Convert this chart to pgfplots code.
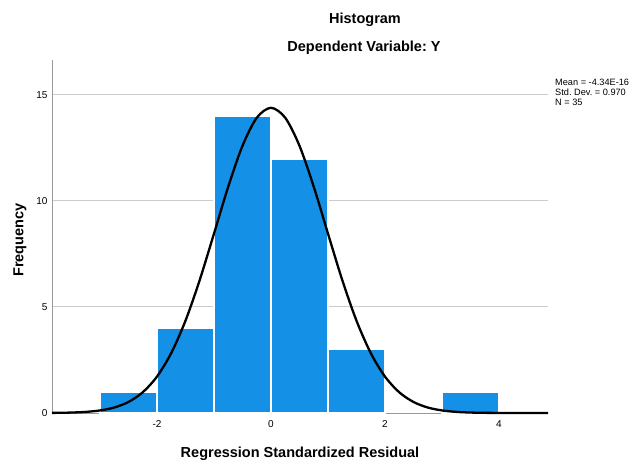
\documentclass[border=0pt]{standalone}
\usepackage{fontspec}
\setmainfont{Liberation Sans}
\usepackage{pgfplots}
\pgfplotsset{compat=1.18}
\definecolor{barblue}{RGB}{20,144,230}
\frenchspacing
\begin{document}
\begin{tikzpicture}[x=1pt,y=1pt]
\useasboundingbox (0,0) rectangle (629,459);
\begin{axis}[
  at={(52pt,46pt)}, anchor=south west,
  scale only axis, width=496pt, height=353pt,
  xmin=-3.842, xmax=4.86, ymin=0, ymax=16.65,
  axis x line=bottom, axis y line=left,
  axis line style={-, draw=black!40, line width=0.9pt},
  xtick={-2,0,2,4}, ytick={0,5,10,15},
  major tick length=0pt,
  ymajorgrids, grid style={black!20, line width=1pt},
  ticklabel style={font=\fontsize{10}{12}\selectfont},
  /pgf/number format/assume math mode=true,
  xticklabel style={yshift=-4pt},
  yticklabel style={xshift=-1pt},
  clip=false,
]
\addplot[ybar, bar width=1, bar shift=0, fill=barblue, draw=white, line width=2.2pt]
  coordinates {(-2.5,1) (-1.5,4) (-0.5,14) (0.5,12) (1.5,3) (3.5,1)};
\addplot[black, line width=2.3pt, smooth, no marks] coordinates {
(-3.842,0.0057) (-3.75,0.0082) (-3.5,0.0214) (-3.25,0.0526) (-3,0.1206)
(-2.75,0.259) (-2.5,0.520) (-2.25,0.977) (-2,1.718) (-1.75,2.828)
(-1.5,4.354) (-1.25,6.275) (-1,8.461) (-0.75,10.676) (-0.5,12.604)
(-0.25,13.925) (0,14.395) (0.25,13.925) (0.5,12.604) (0.75,10.676)
(1,8.461) (1.25,6.275) (1.5,4.354) (1.75,2.828) (2,1.718)
(2.25,0.977) (2.5,0.520) (2.75,0.259) (3,0.1206) (3.25,0.0526)
(3.5,0.0214) (3.75,0.0082) (4,0.0029) (4.25,0.001) (4.5,0.0003)
(4.75,0.0001) (4.86,0)};
\end{axis}
\node[font=\bfseries\fontsize{14.5}{16}\selectfont, anchor=base] at (365,435) {Histogram};
\node[font=\bfseries\fontsize{14.5}{16}\selectfont, anchor=base] at (364,407) {Dependent Variable: Y};
\node[font=\bfseries\fontsize{14.5}{16}\selectfont, anchor=base] at (300,2) {Regression Standardized Residual};
\node[font=\bfseries\fontsize{14.5}{16}\selectfont, anchor=base, rotate=90] at (23.3,219) {Frequency};
\node[font=\fontsize{9.2}{10}\selectfont, anchor=north west, align=left, inner sep=0pt] at (555,380)
  {Mean = -4.34E-16\\Std. Dev. = 0.970\\N = 35};
\end{tikzpicture}
\end{document}
